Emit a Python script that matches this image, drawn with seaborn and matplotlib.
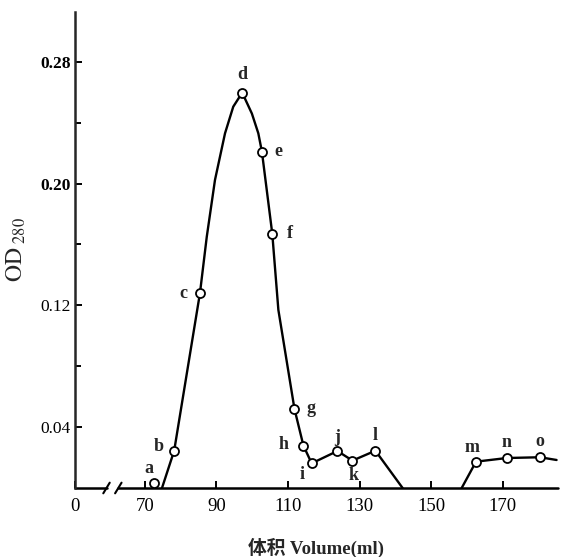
import matplotlib
matplotlib.use("Agg")
import matplotlib.pyplot as plt
import seaborn as sns

# fractions marked with open circles
point_labels = list("abcdefghijklmno")
point_volume = [72.6, 78.2, 85.4, 97.2, 102.7, 105.6, 111.8, 114.3, 116.6,
                123.8, 128.0, 134.4, 162.5, 171.1, 180.4]
point_od = [0.003, 0.0245, 0.128, 0.2597, 0.221, 0.167, 0.0519, 0.0278, 0.0162,
            0.0243, 0.018, 0.0245, 0.0173, 0.0197, 0.0202]

# drawn elution curve
curve1_volume = [74.8, 78.2, 85.4, 87.3, 89.6, 92.4, 94.7, 97.2, 99.9, 101.7,
                 102.7, 105.6, 107.3, 111.8, 114.3, 116.6, 123.8, 128.0, 134.4, 142.0]
curve1_od = [0.0, 0.0245, 0.128, 0.165, 0.2024, 0.233, 0.2505, 0.2597, 0.246, 0.233,
             0.221, 0.167, 0.117, 0.0519, 0.0278, 0.0162, 0.0243, 0.018, 0.0245, 0.0]
curve2_volume = [158.5, 162.5, 171.1, 180.4, 185.0]
curve2_od = [0.0, 0.0173, 0.0197, 0.0202, 0.0184]

x_ticks = [50.5, 70, 90, 110, 130, 150, 170]
x_tick_labels = ["0", "70", "90", "110", "130", "150", "170"]
y_ticks = [0.04, 0.12, 0.20, 0.28]
y_minor = [0.08, 0.16, 0.24]

sns.set_style("ticks")
plt.rcParams["font.family"] = ["Liberation Serif", "Noto Sans CJK SC"]
plt.rcParams["mathtext.fontset"] = "stix"

fig = plt.figure(figsize=(5.62, 5.57), dpi=100)
ax = fig.add_axes([75 / 562, 69 / 557, 483 / 562, 476 / 557])

sns.lineplot(x=curve1_volume, y=curve1_od, sort=False, estimator=None,
             color="black", linewidth=1.7, ax=ax)
sns.lineplot(x=curve2_volume, y=curve2_od, sort=False, estimator=None,
             color="black", linewidth=1.7, ax=ax)
sns.scatterplot(x=point_volume, y=point_od, marker="o", s=42, color="white",
                edgecolor="black", linewidth=1.3, zorder=3, ax=ax)

# letter offsets in points
offsets = {"a": (-4, 11), "b": (-11, 3), "c": (-12, 0), "d": (0, 13), "e": (12, 0),
           "f": (13, 0), "g": (12, 0), "h": (-14, 1), "i": (-7, -8), "j": (0, 10),
           "k": (1, -11), "l": (0, 11), "m": (-3, 10), "n": (0, 11), "o": (0, 11)}
for lab, vx, vy in zip(point_labels, point_volume, point_od):
    ax.annotate(lab, (vx, vy), xytext=offsets[lab], textcoords="offset points",
                ha="center", va="center", fontsize=13, fontweight="bold")

ax.set_xlim(50.5, 185.4)
ax.set_ylim(0, 0.3127)
sns.despine(ax=ax)
ax.spines["bottom"].set_visible(False)
ax.spines["left"].set_linewidth(1.8)

# broken x axis
ax.plot([50.5, 59.3], [0, 0], color="black", lw=1.8, clip_on=False)
ax.plot([62.6, 185.4], [0, 0], color="black", lw=1.8, clip_on=False)
for bx in (59.3, 62.6):
    ax.plot([bx - 0.9, bx + 0.9], [-0.0035, 0.0035], color="black", lw=1.5, clip_on=False)

ax.set_xticks(x_ticks)
ax.set_xticklabels(x_tick_labels, fontsize=13.5)
ax.set_yticks(y_ticks)
ax.set_yticklabels([f"{v:.2f}" for v in y_ticks], fontsize=12.5)
for t in ax.get_yticklabels()[2:]:
    t.set_fontweight("bold")
ax.set_yticks(y_minor, minor=True)
ax.tick_params(axis="both", which="both", direction="in", width=1.4, colors="black")
ax.tick_params(axis="x", length=5, pad=7)
ax.tick_params(axis="y", which="major", length=5, pad=3)
ax.tick_params(axis="y", which="minor", length=4)

ax.set_ylabel(r"$\mathrm{OD}_{\ 280}$", fontsize=17)
ax.yaxis.set_label_coords(-0.097, 0.5)
ax.set_xlabel("体积 Volume(ml)", fontsize=13.5, fontweight="bold")
ax.xaxis.set_label_coords(0.5, -0.105)

fig.savefig("out.png", dpi=100)
